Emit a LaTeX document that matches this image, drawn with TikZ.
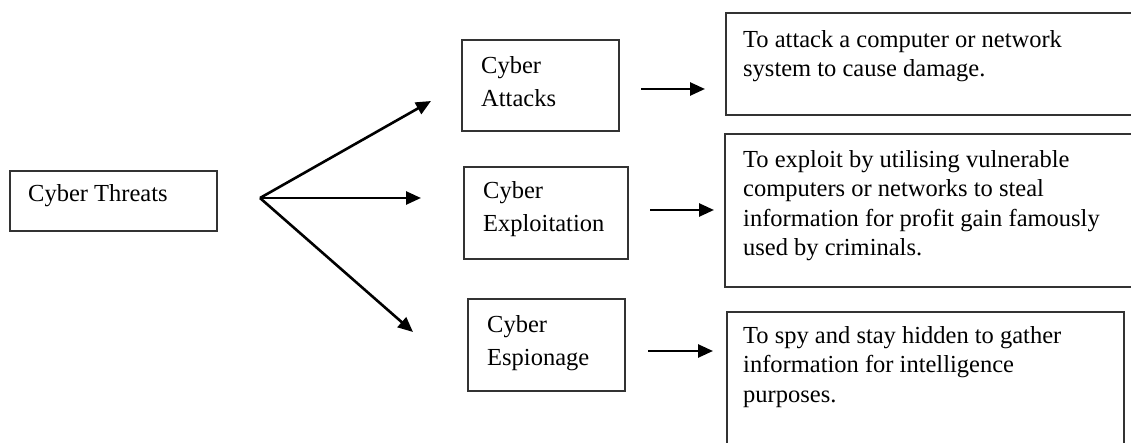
\documentclass[tikz,border=0pt]{standalone}
\usepackage{fontspec}
\setmainfont{Liberation Serif}
\usetikzlibrary{arrows.meta}
\begin{document}
\begin{tikzpicture}[x=1pt,y=-1pt,
  boxshape/.style={draw=black!80,line width=1.3pt,inner sep=0pt},
  lefttext/.style={anchor=base west,inner sep=0pt,align=left,font=\fontsize{24.5}{33}\selectfont},
  righttext/.style={anchor=base west,inner sep=0pt,align=left,font=\fontsize{24.5}{29.5}\selectfont},
  arr/.style={line width=2.6pt,-{Triangle[length=15pt,width=13pt]}}]
\clip (0,0) rectangle (1131,443);
\fill[white] (0,0) rectangle (1131,443);
% left boxes (text anchors: baseline of last line)
\draw[boxshape] (10,171) rectangle (217,231);
\node[lefttext] (tThreat) at (28,202) {Cyber Threats};
\coordinate (fan) at (260,198);
\draw[boxshape] (462,40) rectangle (619,131);
\node[lefttext] (tAtt) at (481,107) {Cyber\\Attacks};
\draw[boxshape] (464,167) rectangle (628,259);
\node[lefttext] (tExp) at (483,232) {Cyber\\Exploitation};
\draw[boxshape] (468,299) rectangle (625,391);
\node[lefttext] (tEsp) at (487,365) {Cyber\\Espionage};
% right boxes
\draw[boxshape] (726,13) rectangle (1140,115);
\node[righttext] (dAtt) at (743,77) {To attack a computer or network\\system to cause damage.};
\draw[boxshape] (725,134) rectangle (1140,287);
\node[righttext] (dExp) at (743,256) {To exploit by utilising vulnerable\\computers or networks to steal\\information for profit gain famously\\used by criminals.};
\draw[boxshape] (727,312) rectangle (1124,455);
\node[righttext] (dEsp) at (743,402) {To spy and stay hidden to gather\\information for intelligence\\purposes.};
% fan arrows
\coordinate (aUp) at (431,101);
\coordinate (aMid) at (421,198);
\coordinate (aLow) at (413,332);
\draw[arr] (fan) -- (aUp);
\draw[arr] (fan) -- (aMid);
\draw[arr] (fan) -- (aLow);
% right arrows
\coordinate (r1s) at (641,89); \coordinate (r1e) at (705,89);
\coordinate (r2s) at (650,210); \coordinate (r2e) at (714,210);
\coordinate (r3s) at (648,351); \coordinate (r3e) at (713,351);
\draw[arr] (r1s) -- (r1e);
\draw[arr] (r2s) -- (r2e);
\draw[arr] (r3s) -- (r3e);
\end{tikzpicture}
\end{document}
